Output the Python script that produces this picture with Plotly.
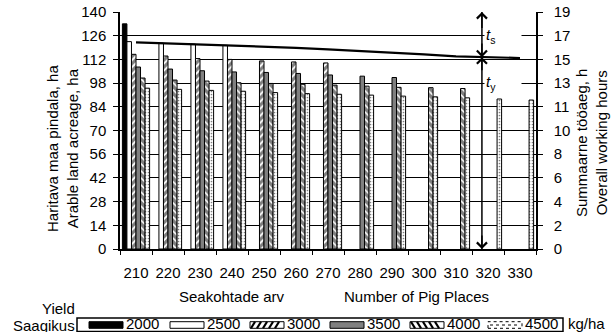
import plotly.graph_objects as go

# ---------------- data ----------------
categories = ["210", "220", "230", "240", "250", "260", "270",
              "280", "290", "300", "310", "320", "330"]
N = None
yield_2000 = [133.0, N, N, N, N, N, N, N, N, N, N, N, N]
yield_2500 = [122.5, 121.6, 121.0, 120.3, N, N, N, N, N, N, N, N, N]
yield_3000 = [115.0, 114.0, 112.5, 112.0, 111.1, 110.5, 109.9, N, N, N, N, N, N]
yield_3500 = [107.5, 106.3, 105.3, 104.6, 104.3, 103.7, 102.8, 102.1, 101.3, N, N, N, N]
yield_4000 = [101.0, 99.8, 99.2, 98.2, 97.8, 97.3, 96.8, 96.2, 95.5, 95.3, 94.8, N, N]
yield_4500 = [95.0, 94.3, 93.7, 93.2, 92.4, 91.8, 91.4, 90.9, 90.3, 89.9, 89.3, 88.6, 88.0]
working_hours = [16.57, 16.49, 16.43, 16.33, 16.23, 16.13, 16.01,
                 15.89, 15.75, 15.60, 15.45, 15.35, 15.31]

left_ticks = [0, 14, 28, 42, 56, 70, 84, 98, 112, 126, 140]
right_tickvals = [0, 1.9, 3.8, 5.7, 7.6, 9.5, 11.4, 13.3, 15.2, 17.1, 19]
right_ticktext = ["0", "2", "4", "6", "8", "10", "11", "13", "15", "17", "19"]
yield_labels = ["2000", "2500", "3000", "3500", "4000", "4500"]

# ---------------- layout constants ----------------
W, H = 613, 332
ML, MR, MT, MB = 120, 77, 12, 83
PW, PH = W - ML - MR, H - MT - MB
FONT = "Liberation Sans, Arial, sans-serif"
FS = 15


def px(x):
    return (x - ML) / PW


def py(y):
    return (H - MB - y) / PH


series = [
    (yield_2000, dict(color="black")),
    (yield_2500, dict(color="white")),
    (yield_3000, dict(color="white", pattern=dict(shape="/", fgcolor="black", bgcolor="white",
                                                  size=5, solidity=0.65, fillmode="overlay"))),
    (yield_3500, dict(color="#808080")),
    (yield_4000, dict(color="white", pattern=dict(shape="\\", fgcolor="black", bgcolor="white",
                                                  size=5, solidity=0.7, fillmode="overlay"))),
    (yield_4500, dict(color="white", pattern=dict(shape=".", fgcolor="black", bgcolor="white",
                                                  size=3, solidity=0.25, fillmode="overlay"))),
]

fig = go.Figure()
for (vals, mk), name in zip(series, yield_labels):
    mk = dict(mk)
    mk["line"] = dict(color="black", width=1)
    fig.add_trace(go.Bar(x=categories, y=vals, name=name, marker=mk,
                         showlegend=False, yaxis="y"))

fig.add_trace(go.Scatter(x=categories, y=working_hours, mode="lines",
                         line=dict(color="black", width=2.2), yaxis="y2",
                         showlegend=False))

fig.update_layout(
    template="none",
    width=W, height=H,
    margin=dict(l=ML, r=MR, t=MT, b=MB, pad=0, autoexpand=False),
    plot_bgcolor="white", paper_bgcolor="white",
    barmode="group", bargap=0.15, bargroupgap=0,
    font=dict(family=FONT, size=FS, color="black"),
    xaxis=dict(type="category", showline=True, linecolor="black", linewidth=1.5,
               ticks="outside", ticklen=4, tickcolor="black", tickson="boundaries",
               showgrid=False, tickfont=dict(size=FS), ticklabelstandoff=9,
               tickangle=0, automargin=False),
    yaxis=dict(range=[0, 140], tickmode="array", tickvals=left_ticks,
               showgrid=True, gridcolor="black", gridwidth=1.2,
               showline=True, linecolor="black", linewidth=1.5,
               ticks="outside", ticklen=5, tickcolor="black",
               zeroline=False, tickfont=dict(size=FS), ticklabelstandoff=4,
               automargin=False),
    yaxis2=dict(range=[0, 19], overlaying="y", side="right",
                tickmode="array", tickvals=right_tickvals, ticktext=right_ticktext,
                showgrid=False, showline=True, linecolor="black", linewidth=1.5,
                ticks="outside", ticklen=5, tickcolor="black",
                zeroline=False, tickfont=dict(size=FS), ticklabelstandoff=8,
                automargin=False),
)

shapes = []
ann = []


def text_ann(x, y, text, xanchor="center", yanchor="middle", **kw):
    d = dict(x=px(x), y=py(y), xref="paper", yref="paper", xanchor=xanchor,
             yanchor=yanchor, text=text, showarrow=False, font=dict(size=FS))
    d.update(kw)
    ann.append(d)


# vertical arrow line for t_s / t_y
xa = 10.81
meet = 15.38
shapes.append(dict(type="line", xref="x", yref="y2", x0=xa, x1=xa, y0=0, y1=19,
                   line=dict(color="black", width=1.5)))
for head, tail in [(19, 17.6), (meet, 16.6), (meet, 14.2), (0, 1.2)]:
    ann.append(dict(x=xa, y=head, ax=xa, ay=tail, xref="x", yref="y2",
                    axref="x", ayref="y2", text="", showarrow=True,
                    arrowhead=4, arrowsize=1.3, arrowwidth=1.5, arrowcolor="black"))

# t_s and t_y labels (white box interrupts gridline)
for lab, yv in [("<i>t</i><sub>s</sub>", 17.1), ("<i>t</i><sub>y</sub>", 13.3)]:
    ann.append(dict(x=px(484), y=yv, xref="paper", yref="y2", xanchor="left",
                    yanchor="middle", text=lab, showarrow=False, bgcolor="white",
                    width=34, height=20, align="left", font=dict(size=FS)))

# axis titles
text_ann(62, 149, "Haritava maa pindala, ha<br>Arable land acreage, ha", textangle=-90)
text_ann(591, 143, "Summaarne tööaeg, h<br>Overall working hours", textangle=-90)
text_ann(177, 296, "Seakohtade arv", xanchor="left")
text_ann(342, 296, "Number of Pig Places", xanchor="left")

# custom legend
text_ann(76, 308, "Yield", xanchor="right", borderpad=0)
text_ann(76, 325, "Saagikus", xanchor="right", borderpad=0)
text_ann(566, 323, "kg/ha", xanchor="left")
shapes.append(dict(type="rect", xref="paper", yref="paper", x0=px(77), x1=px(563),
                   y0=py(318), y1=py(331.5), line=dict(color="black", width=1.5)))

sw_x = [89, 170, 250, 330, 410, 488]
sw_w = 34
top, bot = 321.7, 328.3
fills = ["black", "white", "white", "#808080", "white", "white"]
for i, (x0, lab) in enumerate(zip(sw_x, yield_labels)):
    x1 = x0 + sw_w
    shapes.append(dict(type="rect", xref="paper", yref="paper", x0=px(x0), x1=px(x1),
                       y0=py(bot), y1=py(top), fillcolor=fills[i],
                       line=dict(color="black", width=1,
                                 dash="dot" if i == 5 else "solid")))
    if i in (2, 4):
        xs = x0 + 1
        while xs + 4 <= x1:
            if i == 2:
                seg = (xs, bot, xs + 4, top)
            else:
                seg = (xs, top, xs + 4, bot)
            shapes.append(dict(type="line", xref="paper", yref="paper",
                               x0=px(seg[0]), y0=py(seg[1]), x1=px(seg[2]), y1=py(seg[3]),
                               line=dict(color="black", width=2.2)))
            xs += 6
    if i == 5:
        shapes.append(dict(type="line", xref="paper", yref="paper",
                           x0=px(x0 + 2), x1=px(x1 - 2), y0=py(325), y1=py(325),
                           line=dict(color="black", width=1, dash="dot")))
    text_ann(x1 + 1, 323.5, lab, xanchor="left")

fig.update_layout(shapes=shapes, annotations=ann)
fig.write_html("out.html", config={"displayModeBar": False},
               post_script="document.body.style.margin='0';document.body.style.overflow='hidden';")
